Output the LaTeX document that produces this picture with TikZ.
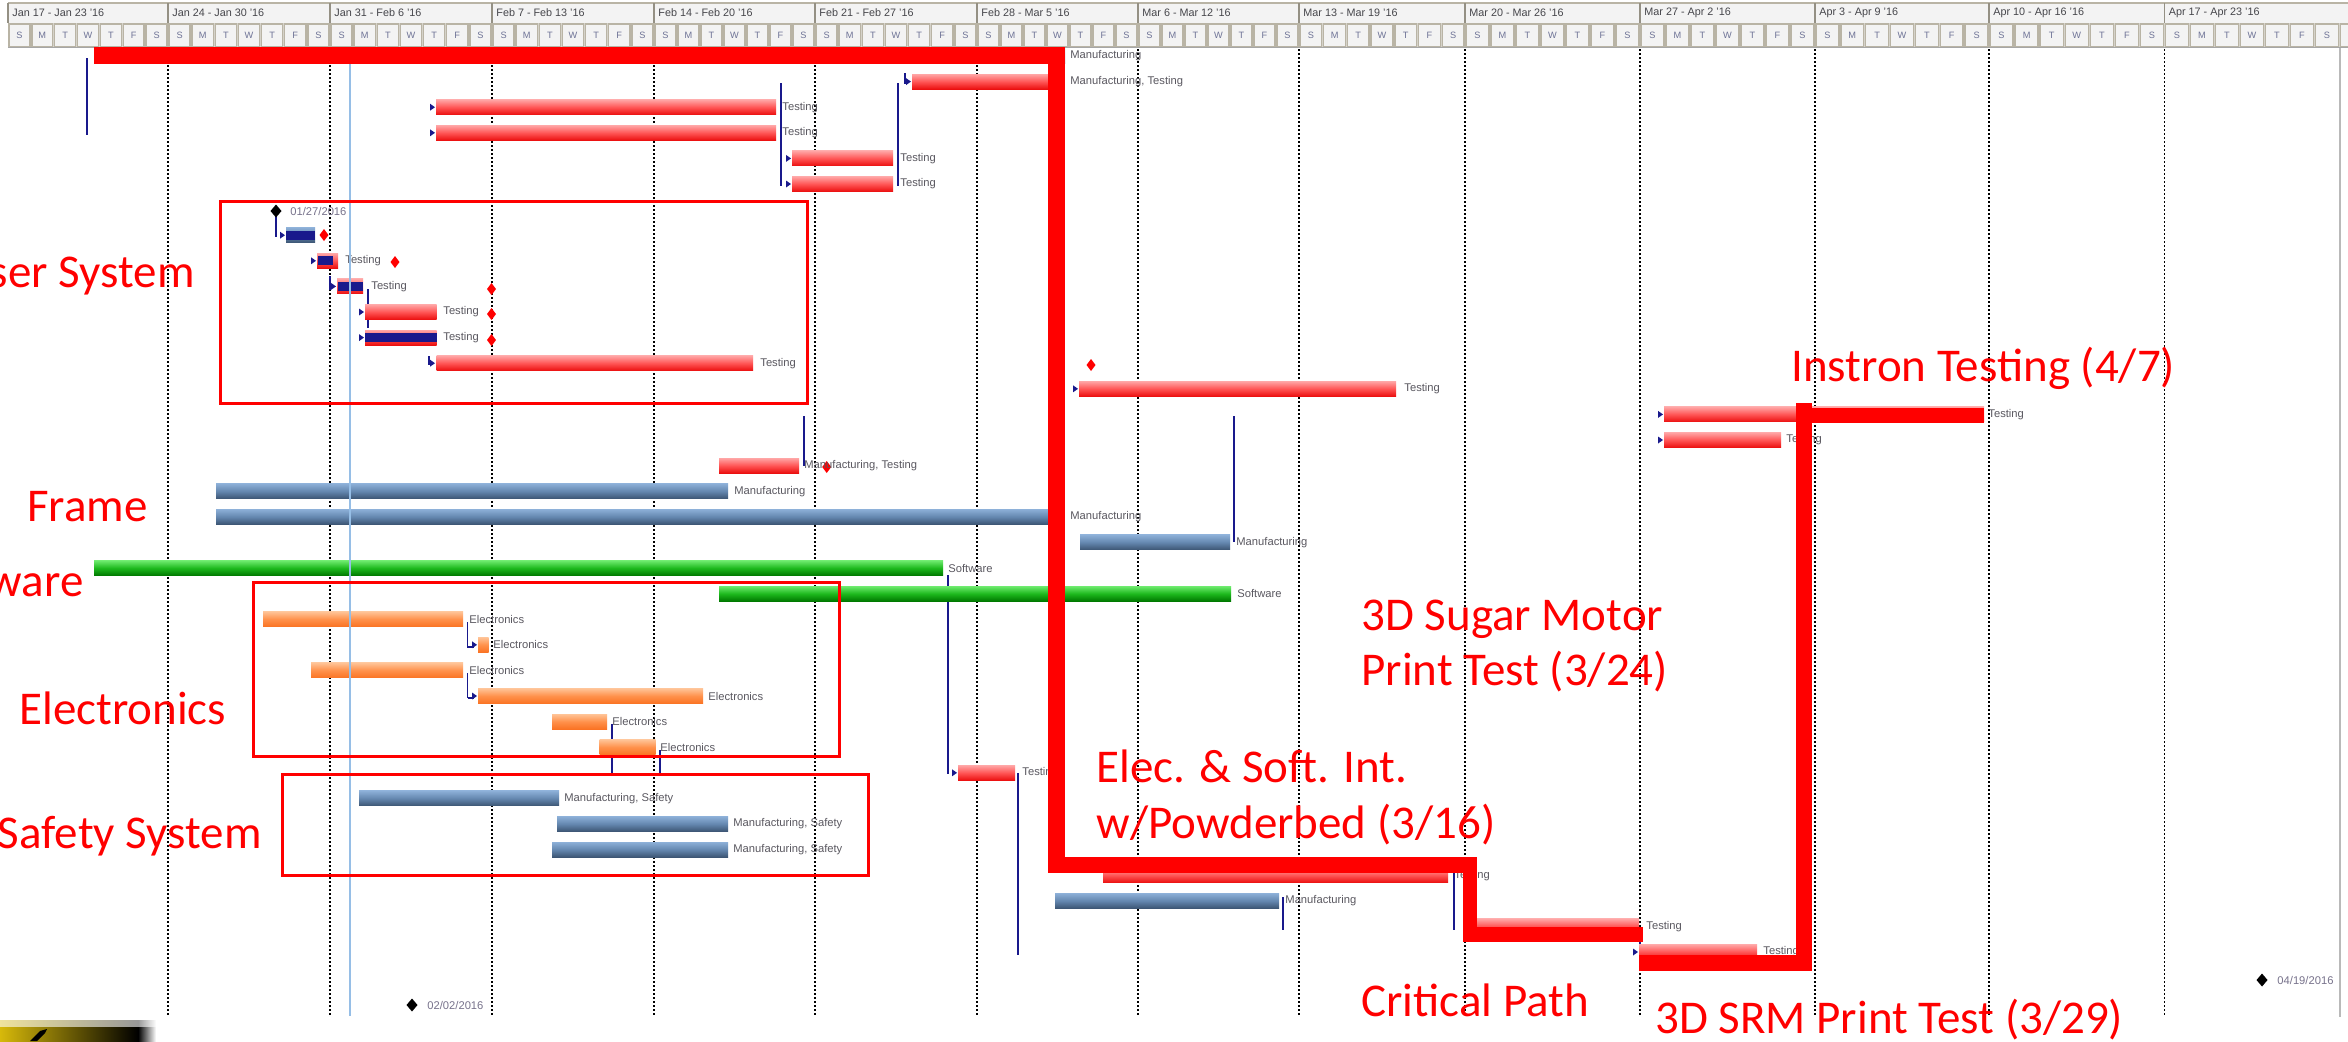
\documentclass[tikz,border=0pt]{standalone}
\usepackage{fontspec}
\setmainfont{Liberation Sans}
\newfontfamily\calibfont{Carlito}
\definecolor{navyc}{RGB}{25,25,140}
\definecolor{labc}{RGB}{90,88,96}
\definecolor{datec}{RGB}{120,115,140}
\definecolor{rbTop}{RGB}{255,165,165}
\definecolor{rbMid}{RGB}{255,85,85}
\definecolor{rbBot}{RGB}{235,15,15}
\definecolor{sbTop}{RGB}{140,175,215}
\definecolor{sbMid}{RGB}{100,135,175}
\definecolor{sbBot}{RGB}{60,85,115}
\definecolor{gbTop}{RGB}{110,235,110}
\definecolor{gbMid}{RGB}{30,185,30}
\definecolor{gbBot}{RGB}{0,120,0}
\definecolor{obTop}{RGB}{255,195,150}
\definecolor{obMid}{RGB}{255,145,75}
\definecolor{obBot}{RGB}{250,115,35}
\definecolor{todayc}{RGB}{150,190,230}
\definecolor{hdrfill}{RGB}{243,243,243}
\definecolor{cellb}{RGB}{185,180,165}
\definecolor{dayc}{RGB}{110,115,150}
\definecolor{wkc}{RGB}{70,70,75}
\definecolor{logoy}{RGB}{215,185,10}
\newcommand\gbar[4]{\pgfmathsetmacro\gyc{56+25.6*#4}\path[#1] (#2,\gyc-7.5) rectangle (#3,\gyc+7.5);}
\newcommand\gprog[3]{\pgfmathsetmacro\gyc{56+25.6*#3}\fill[navyc] (#1,\gyc-4.5) rectangle (#2,\gyc+4.5);}
\newcommand\glabel[4]{\pgfmathsetmacro\gyc{56+25.6*#3}\node[glab] (#1) at (#2,\gyc) {#4};}
\newcommand\garrow[2]{\pgfmathsetmacro\gyc{56+25.6*#2}\fill[navyc] (#1-5,\gyc-3.5) -- (#1,\gyc) -- (#1-5,\gyc+3.5) -- cycle;}
\newcommand\gconn[3]{\draw[conn] (#1,#2) -- (#1,#3);}
\newcommand\rdia[2]{\fill[red] (#1,#2-6) -- (#1+4.5,#2) -- (#1,#2+6) -- (#1-4.5,#2) -- cycle;}
\newcommand\bdia[2]{\fill[black] (#1,#2-6.5) -- (#1+5.5,#2) -- (#1,#2+6.5) -- (#1-5.5,#2) -- cycle;}
\begin{document}
\begin{tikzpicture}[x=0.5pt,y=-0.5pt,
  redbar/.style={top color=rbTop,bottom color=rbBot,middle color=rbMid},
  steelbar/.style={top color=sbTop,bottom color=sbBot,middle color=sbMid},
  greenbar/.style={top color=gbTop,bottom color=gbBot,middle color=gbMid},
  orangebar/.style={top color=obTop,bottom color=obBot,middle color=obMid},
  conn/.style={draw=navyc,line width=0.8pt},
  dotline/.style={draw=black,line width=0.9pt,dash pattern=on 0.9pt off 1.1pt},
  glab/.style={anchor=west,inner sep=0pt,text=labc,font=\fontsize{5.6pt}{6pt}\selectfont},
  datelab/.style={glab,text=datec},
  ann/.style={inner sep=0pt,text=red,font=\calibfont\fontsize{23.5pt}{28pt}\selectfont},
  boxr/.style={draw=red,line width=1.5pt},
  cp/.style={fill=red},
  wklab/.style={anchor=west,inner sep=0pt,text=wkc,font=\fontsize{5.4pt}{6pt}\selectfont},
  daylab/.style={inner sep=0pt,text=dayc,font=\fontsize{4.6pt}{5pt}\selectfont},
  daycell/.style={fill=hdrfill,draw=cellb,line width=0.7pt}
]
\useasboundingbox (0,0) rectangle (2348,1041);
\fill[white] (0,0) rectangle (2348,1041);
\begin{scope}
\clip (0,0) rectangle (2348,1041);
% ---------- header ----------
\fill[hdrfill] (8,3) rectangle (2348,22.5);
\draw[cellb,line width=0.6pt] (8,3) -- (2348,3);
\fill[cellb!60] (8,22.5) rectangle (2348,47.5);
\foreach \a/\b/\lab [count=\i] in {8/168/{Jan 17 - Jan 23 '16},168/330/{Jan 24 - Jan 30 '16},330/492/{Jan 31 - Feb 6 '16},492/654/{Feb 7 - Feb 13 '16},654/815/{Feb 14 - Feb 20 '16},815/977/{Feb 21 - Feb 27 '16},977/1138/{Feb 28 - Mar 5 '16},1138/1299/{Mar 6 - Mar 12 '16},1299/1465/{Mar 13 - Mar 19 '16},1465/1640/{Mar 20 - Mar 26 '16},1640/1815/{Mar 27 - Apr 2 '16},1815/1989/{Apr 3 - Apr 9 '16},1989/2164.5/{Apr 10 - Apr 16 '16},2164.5/2339.5/{Apr 17 - Apr 23 '16}}{
  \draw[cellb!80!black,line width=0.7pt] (\a,3) -- (\a,22.5);
  \node[wklab] (wk\i) at (\a+4,12.5) {\lab};
  \foreach \d/\L in {0/S,1/M,2/T,3/W,4/T,5/F,6/S}{
    \pgfmathsetmacro\xa{\a+(\b-\a)*\d/7}
    \pgfmathsetmacro\xb{\a+(\b-\a)*(\d+1)/7}
    \path[daycell] (\xa+1,24) rectangle (\xb-1,46.5);
    \node[daylab] (dy\i x\d) at ({(\xa+\xb)/2},35) {\L};
  }
}
\path[daycell] (2340.5,24) rectangle (2352,46.5);
\draw[gray!70,line width=0.8pt] (8,47.5) -- (2348,47.5);
% ---------- grid ----------
\foreach \x in {168,330,492,654,815,977,1138,1299,1465,1640,1815,1989,2164.5}
  \draw[dotline] (\x,49) -- (\x,1016);
\draw[gray!55,line width=0.7pt] (2340,48) -- (2340,1017);
% ---------- connectors ----------
\gconn{87}{58}{135}
\gconn{781}{83}{186}
\gconn{898}{83}{186}
\gconn{905}{73}{84}
\gconn{276}{212}{237}
\gconn{330}{276}{290}
\gconn{368}{289}{328}
\gconn{429}{356}{365}
\gconn{804}{416}{466}
\gconn{1234}{416}{542}
\gconn{948}{575}{774}
\gconn{467.5}{622}{648}
\draw[conn] (467.5,647) -- (474,647);
\gconn{467.5}{673}{698}
\draw[conn] (467.5,698) -- (474,698);
\gconn{612}{724}{774}
\gconn{660}{750}{774}
\gconn{1018}{773}{955}
\gconn{1454}{873}{930}
\gconn{1283}{897}{930}
\gconn{1640}{942}{952}
% ---------- bars ----------
\gbar{steelbar}{95}{1065}{0}
\gbar{redbar}{912}{1063}{1}
\gbar{redbar}{436}{776}{2}
\gbar{redbar}{436}{776}{3}
\gbar{redbar}{792}{893}{4}
\gbar{redbar}{792}{893}{5}
\gbar{steelbar}{286}{315}{7}\gprog{286}{315}{7}
\gbar{redbar}{317}{338}{8}\gprog{318}{333}{8}
\gbar{redbar}{337}{363}{9}\gprog{338}{363}{9}
\gbar{redbar}{365}{436.5}{10}
\gbar{redbar}{365}{436.5}{11}\gprog{365}{436.5}{11}
\gbar{redbar}{436.5}{753}{12}
\gbar{redbar}{1079}{1396}{13}
\gbar{redbar}{1664}{1984}{14}
\gbar{redbar}{1664}{1781}{15}
\gbar{redbar}{719}{799}{16}
\gbar{steelbar}{216}{728}{17}
\gbar{steelbar}{216}{1064}{18}
\gbar{steelbar}{1080}{1230}{19}
\gbar{greenbar}{94}{943}{20}
\gbar{greenbar}{719}{1231}{21}
\gbar{orangebar}{263}{463}{22}
\gbar{orangebar}{478}{488.5}{23}
\gbar{orangebar}{311}{463}{24}
\gbar{orangebar}{478}{703}{25}
\gbar{orangebar}{552}{607}{26}
\gbar{orangebar}{599.5}{655.5}{27}
\gbar{redbar}{958}{1015}{28}
\gbar{steelbar}{359}{559}{29}
\gbar{steelbar}{557}{728}{30}
\gbar{steelbar}{552}{728}{31}
\gbar{redbar}{1103}{1448}{32}
\gbar{steelbar}{1055}{1279}{33}
\gbar{redbar}{1472}{1639}{34}
\gbar{redbar}{1639}{1757}{35}
% ---------- arrow tips ----------
\foreach \t/\k in {911/1,435/2,435/3,791/4,791/5,285/7,316/8,336/9,364/10,364/11,435/12,1078/13,1663/14,1663/15,477/23,477/25,957/28,1471/34,1638/35}
  {\garrow{\t}{\k}}
% ---------- diamonds ----------
\rdia{324}{235}
\rdia{395}{262}
\rdia{491.5}{289}
\rdia{491.5}{314}
\rdia{491.5}{340}
\rdia{1091}{365}
\rdia{826.7}{467}
\bdia{276}{211}
\bdia{412}{1005}
\bdia{2262}{980}
% ---------- task labels ----------
\glabel{l0}{1070}{0}{Manufacturing}
\glabel{l1}{1070}{1}{Manufacturing, Testing}
\glabel{l2}{782}{2}{Testing}
\glabel{l3}{782}{3}{Testing}
\glabel{l4}{900}{4}{Testing}
\glabel{l5}{900}{5}{Testing}
\glabel{l8}{345}{8}{Testing}
\glabel{l9}{371}{9}{Testing}
\glabel{l10}{443}{10}{Testing}
\glabel{l11}{443}{11}{Testing}
\glabel{l12}{760}{12}{Testing}
\glabel{l13}{1404}{13}{Testing}
\glabel{l14}{1988}{14}{Testing}
\glabel{l15}{1786}{15}{Testing}
\glabel{l16}{804}{16}{Manufacturing, Testing}
\glabel{l17}{734}{17}{Manufacturing}
\glabel{l18}{1070}{18}{Manufacturing}
\glabel{l19}{1236}{19}{Manufacturing}
\glabel{l20}{948}{20}{Software}
\glabel{l21}{1237}{21}{Software}
\glabel{l22}{469}{22}{Electronics}
\glabel{l23}{493}{23}{Electronics}
\glabel{l24}{469}{24}{Electronics}
\glabel{l25}{708}{25}{Electronics}
\glabel{l26}{612}{26}{Electronics}
\glabel{l27}{660}{27}{Electronics}
\glabel{l28}{1022}{28}{Testing}
\glabel{l29}{564}{29}{Manufacturing, Safety}
\glabel{l30}{733}{30}{Manufacturing, Safety}
\glabel{l31}{733}{31}{Manufacturing, Safety}
\glabel{l32}{1454}{32}{Testing}
\glabel{l33}{1285}{33}{Manufacturing}
\glabel{l34}{1646}{34}{Testing}
\glabel{l35}{1763}{35}{Testing}
\node[datelab] (dA) at (290,211) {01/27/2016};
\node[datelab] (dB) at (427,1005) {02/02/2016};
\node[datelab] (dC) at (2277,980) {04/19/2016};
% ---------- today line ----------
\draw[todayc,line width=0.9pt] (350,48) -- (350,1016);
% ---------- group boxes ----------
\draw[boxr] (220.5,201.5) rectangle (807,403);
\draw[boxr] (253,582.5) rectangle (839.5,756.5);
\draw[boxr] (282,774) rectangle (868,875);
% ---------- critical path ----------
\fill[cp] (94,47) rectangle (1064.5,64);
\fill[cp] (1047.5,47) rectangle (1064.5,872.5);
\fill[cp] (1047.5,857) rectangle (1477,872.5);
\fill[cp] (1463,857) rectangle (1477,942);
\fill[cp] (1463,927) rectangle (1643,942);
\fill[cp] (1639,955) rectangle (1812,971);
\fill[cp] (1796,403) rectangle (1812,971);
\fill[cp] (1796,408) rectangle (1984,423);
% ---------- annotations ----------
\node[ann,anchor=base east] (tLaser) at (195,287) {Laser System};
\node[ann,anchor=base west] (tFrame) at (27,521) {Frame};
\node[ann,anchor=base east] (tSoft) at (84,596) {Software};
\node[ann,anchor=base west] (tElec) at (19,724) {Electronics};
\node[ann,anchor=base east] (tSafe) at (262,848) {Safety System};
\node[ann,anchor=base west] (tSugA) at (1361,630) {3D Sugar Motor};
\node[ann,anchor=base west] (tSugB) at (1361,685) {Print Test (3/24)};
\node[ann,anchor=base west] (tIntA) at (1096,782) {Elec. \& Soft. Int.};
\node[ann,anchor=base west] (tIntB) at (1096,838) {w/Powderbed (3/16)};
\node[ann,anchor=base west] (tCrit) at (1361,1016) {Critical Path};
\node[ann,anchor=base west] (tSRM) at (1655,1033) {3D SRM Print Test (3/29)};
\node[ann,anchor=base west] (tInst) at (1791,381) {Instron Testing (4/7)};
% ---------- logo fragment ----------
\shade[left color=logoy,right color=black] (0,1020) rectangle (138,1041);
\shade[left color=black,right color=white] (138,1020) rectangle (156,1041);
\shade[top color=white,bottom color=logoy!0,opacity=0.6] (0,1019) rectangle (156,1026);
\fill[black] (30,1041) -- (40,1031) -- (47,1029) -- (45,1033) -- (37,1041) -- cycle;
\end{scope}
\end{tikzpicture}
\end{document}
